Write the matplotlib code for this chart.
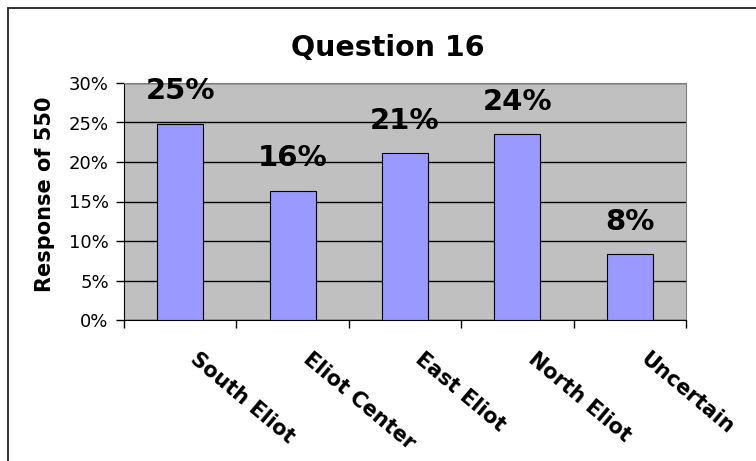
import numpy as np
import matplotlib.pyplot as plt
from matplotlib.patches import Rectangle

plt.rcParams['font.family'] = ['DejaVu Sans']

categories = ["South Eliot", "Eliot Center", "East Eliot", "North Eliot", "Uncertain"]
values = [24.8, 16.3, 21.1, 23.5, 8.3]
labels = ["25%", "16%", "21%", "24%", "8%"]
yticks = [0, 5, 10, 15, 20, 25, 30]

fig = plt.figure(figsize=(7.56, 4.61), dpi=100)
# chart border (only left and top edges fall inside the picture)
fig.patches.append(Rectangle((8 / 756, -0.05), 1.2, 0.05 + (461 - 7.5) / 461,
                             transform=fig.transFigure, fill=False,
                             edgecolor='#222222', linewidth=1.3))

ax = fig.add_axes([124 / 756, 1 - 320 / 461, 562 / 756, 237 / 461])
ax.set_facecolor('#C0C0C0')
x = np.arange(len(categories))
ax.bar(x, values, width=0.41, color='#9999FF', edgecolor='black', linewidth=0.8, zorder=3)

for xi, v, lab in zip(x, values, labels):
    ax.annotate(lab, (xi, v), xytext=(0, 13.5), textcoords='offset points',
                ha='center', va='bottom', fontsize=21, fontweight='bold', zorder=4,
                annotation_clip=False)

ax.set_xlim(-0.5, len(categories) - 0.5)
ax.set_ylim(0, 30)
ax.set_yticks(yticks)
ax.set_yticklabels([f"{t}%" for t in yticks], fontsize=13)
ax.yaxis.grid(True, color='black', linewidth=1, zorder=1)
ax.tick_params(axis='y', length=6, width=1, pad=5)

ax.set_xticks(np.arange(len(categories) + 1) - 0.5)
ax.set_xticklabels([])
ax.tick_params(axis='x', length=6, width=1)
for xi, cat in zip(x, categories):
    ax.annotate(cat, (xi, 0), xytext=(14, -21), textcoords='offset points',
                rotation=-40, rotation_mode='anchor', ha='left', va='top',
                fontsize=15, fontweight='bold', annotation_clip=False)

for s in ['top', 'right']:
    ax.spines[s].set_color('#808080')
ax.spines['left'].set_color('black')
ax.spines['bottom'].set_color('black')

ax.set_ylabel("Response of 550", fontsize=15, fontweight='bold')
ax.yaxis.set_label_coords(-0.122, 0.53)
fig.text(388 / 756, 1 - 48 / 461, "Question 16", ha='center', va='center',
         fontsize=20.5, fontweight='bold')

fig.savefig("out.png", dpi=100)
